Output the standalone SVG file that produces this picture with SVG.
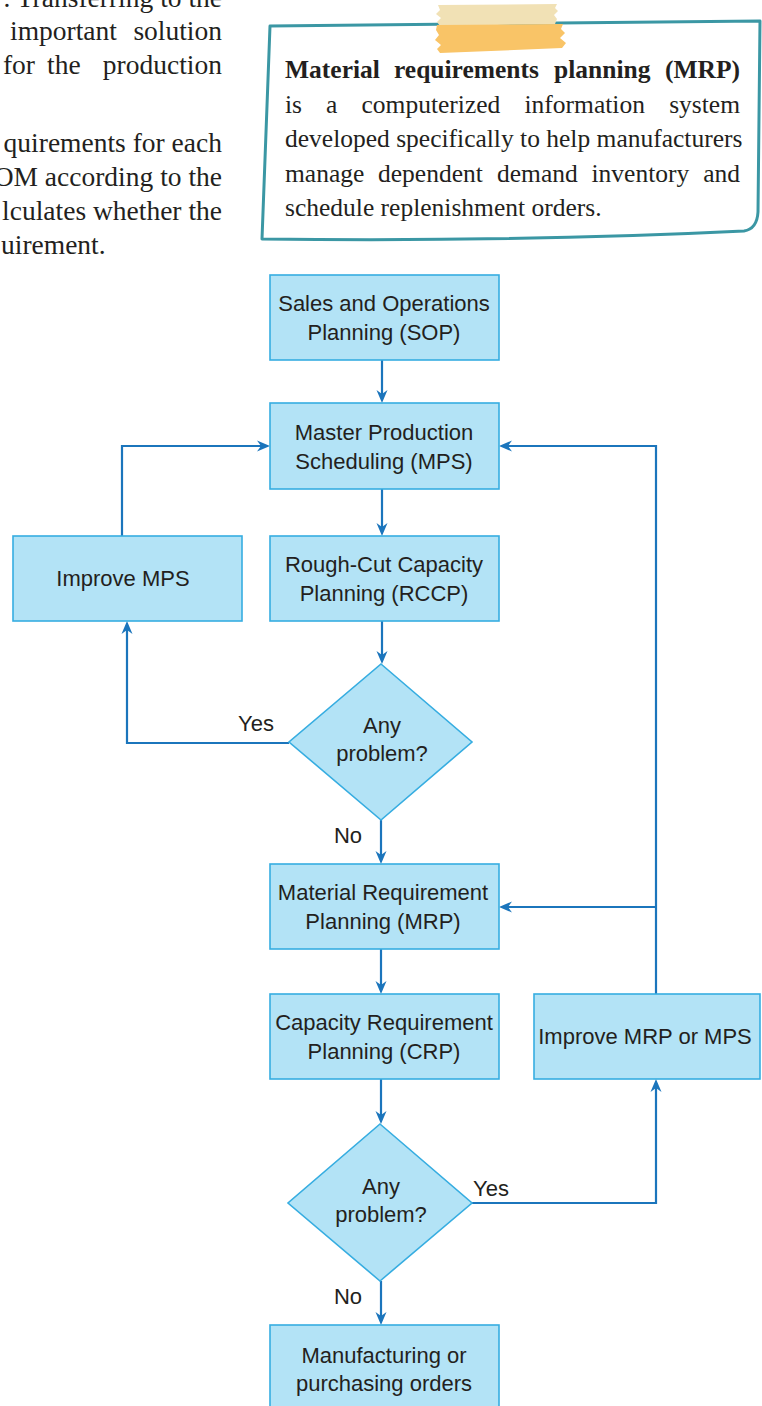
<svg xmlns="http://www.w3.org/2000/svg" width="762" height="1406" viewBox="0 0 762 1406">
  <defs>
    <style>
      .body { font-family: "Liberation Serif", "Times New Roman", serif; font-size: 27.5px; fill: #231f20; }
      .note { font-family: "Liberation Serif", "Times New Roman", serif; font-size: 25.5px; fill: #231f20; }
      .note-b { font-weight: bold; }
      .box { fill: #b3e3f6; stroke: #36ade1; stroke-width: 1.6; }
      .lbl { font-family: "Liberation Sans", Arial, sans-serif; font-size: 22px; fill: #231f20; text-anchor: middle; }
      .edge { fill: none; stroke: #1b75bc; stroke-width: 2.2; marker-end: url(#ah); }
      .elbl { font-family: "Liberation Sans", Arial, sans-serif; font-size: 22px; fill: #231f20; text-anchor: middle; }
    </style>
    <marker id="ah" viewBox="0 -6 14 12" markerUnits="userSpaceOnUse" markerWidth="14" markerHeight="12" refX="4" refY="0" orient="auto">
      <path d="M0,-5.5 L13,0 L0,5.5 L4,0 Z" fill="#1b75bc"/>
    </marker>
  </defs>

  <rect width="762" height="1406" fill="#ffffff"/>

  <!-- body text column, running off the left page edge -->
  <g id="body-text" class="body">
    <text x="222" y="6.5" text-anchor="end">. Transferring to the</text>
    <text x="10" y="40">important</text>
    <text x="222" y="40" text-anchor="end">solution</text>
    <text x="35" y="74" text-anchor="end">for</text>
    <text x="47" y="74">the</text>
    <text x="222" y="74" text-anchor="end">production</text>
    <text x="222" y="152" text-anchor="end">quirements for each</text>
    <text x="222" y="186" text-anchor="end">OM according to the</text>
    <text x="222" y="220" text-anchor="end">lculates whether the</text>
    <text x="1" y="254">uirement.</text>
  </g>

  <!-- sidebar note with tape -->
  <g id="note">
    <path d="M270,26 L760,21 L758,212 Q757,229 744,231 Q520,242 262,239 Z" fill="#ffffff" stroke="#3b97a4" stroke-width="3" stroke-linejoin="round"/>
    <polygon points="438,5 557,4 555,8 558,11 554,15 557,19 555,24 440,26 437,22 441,18 436,14 440,10" fill="#f1e1b5"/>
    <polygon points="437,25 563,24 561,29 565,33 560,38 566,43 562,48 440,53 437,49 441,45 435,40 439,35 436,30" fill="#f9c467"/>
    <g class="note">
      <text class="note-b" x="285" y="78">Material</text>
      <text class="note-b" x="394" y="78">requirements</text>
      <text class="note-b" x="554" y="78">planning</text>
      <text class="note-b" x="740" y="78" text-anchor="end">(MRP)</text>
      <text x="285" y="112.5">is</text>
      <text x="326" y="112.5">a</text>
      <text x="361.5" y="112.5">computerized</text>
      <text x="524.5" y="112.5">information</text>
      <text x="740" y="112.5" text-anchor="end">system</text>
      <text x="285" y="147">developed specifically to help manufacturers</text>
      <text x="285" y="181.5">manage</text>
      <text x="378" y="181.5">dependent</text>
      <text x="497" y="181.5">demand</text>
      <text x="591.5" y="181.5">inventory</text>
      <text x="740" y="181.5" text-anchor="end">and</text>
      <text x="285" y="216">schedule replenishment orders.</text>
    </g>
  </g>

  <!-- connectors -->
  <g id="connectors">
    <path class="edge" d="M382,360 V394"/>
    <path class="edge" d="M382,489 V527"/>
    <path class="edge" d="M382,621 V655"/>
    <path class="edge" d="M381,820 V855"/>
    <path class="edge" d="M381,949 V985"/>
    <path class="edge" d="M381,1079 V1115"/>
    <path class="edge" d="M381,1281 V1316"/>
    <path class="edge" d="M289,743 H127 V630"/>
    <path class="edge" d="M122,536 V446 H261"/>
    <path class="edge" d="M472,1203 H656 V1088"/>
    <path class="edge" d="M656,994 V446 H508"/>
    <path class="edge" d="M656,907 H508"/>
    <text class="elbl" x="256" y="731">Yes</text>
    <text class="elbl" x="348" y="843">No</text>
    <text class="elbl" x="491" y="1196">Yes</text>
    <text class="elbl" x="348" y="1304">No</text>
  </g>

  <!-- flowchart nodes -->
  <g id="sop">
    <rect class="box" x="270" y="275" width="229" height="85"/>
    <text class="lbl" x="384" y="311">Sales and Operations</text>
    <text class="lbl" x="384" y="340">Planning (SOP)</text>
  </g>
  <g id="mps">
    <rect class="box" x="270" y="403" width="229" height="86"/>
    <text class="lbl" x="384" y="440">Master Production</text>
    <text class="lbl" x="384" y="469">Scheduling (MPS)</text>
  </g>
  <g id="improve-mps">
    <rect class="box" x="13" y="536" width="229" height="85"/>
    <text class="lbl" x="123" y="586">Improve MPS</text>
  </g>
  <g id="rccp">
    <rect class="box" x="270" y="536" width="229" height="85"/>
    <text class="lbl" x="384" y="572">Rough-Cut Capacity</text>
    <text class="lbl" x="384" y="601">Planning (RCCP)</text>
  </g>
  <g id="decision-rccp">
    <polygon class="box" points="381,664 472,742 381,820 289,742"/>
    <text class="lbl" x="382" y="733">Any</text>
    <text class="lbl" x="382" y="761">problem?</text>
  </g>
  <g id="mrp">
    <rect class="box" x="270" y="864" width="229" height="85"/>
    <text class="lbl" x="383" y="900">Material Requirement</text>
    <text class="lbl" x="383" y="929">Planning (MRP)</text>
  </g>
  <g id="crp">
    <rect class="box" x="270" y="994" width="229" height="85"/>
    <text class="lbl" x="384" y="1030">Capacity Requirement</text>
    <text class="lbl" x="384" y="1059">Planning (CRP)</text>
  </g>
  <g id="improve-mrp-mps">
    <rect class="box" x="534" y="994" width="226" height="85"/>
    <text class="lbl" x="645" y="1044">Improve MRP or MPS</text>
  </g>
  <g id="decision-crp">
    <polygon class="box" points="380,1124 472,1203 380,1281 288,1203"/>
    <text class="lbl" x="381" y="1194">Any</text>
    <text class="lbl" x="381" y="1222">problem?</text>
  </g>
  <g id="orders">
    <rect class="box" x="270" y="1325" width="229" height="100"/>
    <text class="lbl" x="384" y="1363">Manufacturing or</text>
    <text class="lbl" x="384" y="1391">purchasing orders</text>
  </g>
</svg>
